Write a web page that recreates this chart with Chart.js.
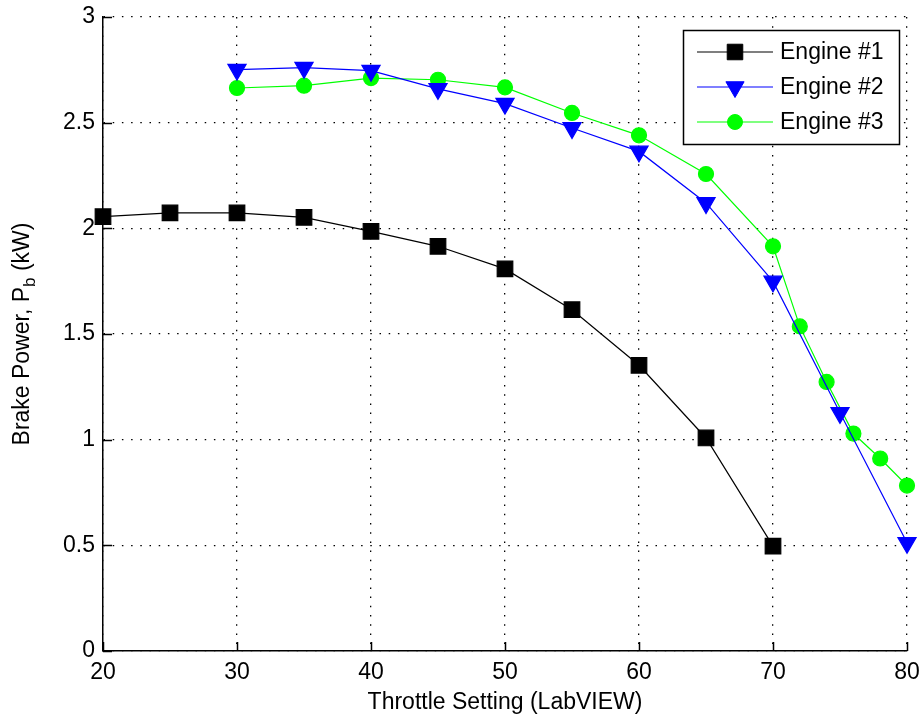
<!DOCTYPE html>
<html>
<head>
<meta charset="utf-8">
<title>Brake Power vs Throttle Setting</title>
<script src="https://cdn.jsdelivr.net/npm/chart.js@4.4.1/dist/chart.umd.min.js"></script>
<style>
  html, body { margin: 0; padding: 0; background: #fff; }
  #wrap { width: 922px; height: 721px; }
</style>
</head>
<body>
<div id="wrap"><canvas id="powerChart" width="922" height="721"></canvas></div>
<script>
// throttle settings and measured brake power (kW) for each engine
const throttle1 = [20, 25, 30, 35, 40, 45, 50, 55, 60, 65, 70];
const engine1 = [2.055, 2.073, 2.073, 2.052, 1.986, 1.915, 1.808, 1.615, 1.352, 1.008, 0.496];

const throttle2 = [30, 35, 40, 45, 50, 55, 60, 65, 70, 75, 80];
const engine2 = [2.751, 2.76, 2.746, 2.66, 2.59, 2.475, 2.364, 2.12, 1.749, 1.127, 0.512];

const throttle3 = [30, 35, 40, 45, 50, 55, 60, 65, 70, 72, 74, 76, 78, 80];
const engine3 = [2.664, 2.675, 2.711, 2.703, 2.667, 2.546, 2.44, 2.257, 1.915, 1.536, 1.273, 1.029, 0.911, 0.783];

const seriesNames = ['Engine #1', 'Engine #2', 'Engine #3'];

const FONT = '"Liberation Sans", Arial, sans-serif';
const FONT_SIZE = 23;

// pair up x and y arrays for the linear x axis
function toPoints(xs, ys) {
    return xs.map((x, i) => ({ x: x, y: ys[i] }));
}

// MATLAB style: tick marks pointing into the plot
const innerTicks = {
    id: 'innerTicks',
    afterDatasetsDraw(chart) {
        const ctx = chart.ctx;
        const area = chart.chartArea;
        const xs = chart.scales.x;
        const ys = chart.scales.y;
        ctx.save();
        ctx.strokeStyle = '#000';
        ctx.lineWidth = 1.5;
        ctx.beginPath();
        xs.ticks.forEach(t => {
            const px = Math.round(xs.getPixelForValue(t.value)) + 0.5;
            ctx.moveTo(px, area.bottom);
            ctx.lineTo(px, area.bottom - 9);
        });
        ys.ticks.forEach(t => {
            const py = Math.round(ys.getPixelForValue(t.value)) + 0.5;
            ctx.moveTo(area.left, py);
            ctx.lineTo(area.left + 9, py);
        });
        ctx.stroke();
        ctx.restore();
    }
};

// rotated y title with a subscript "b"
const yTitle = {
    id: 'yTitle',
    afterDraw(chart) {
        const ctx = chart.ctx;
        const area = chart.chartArea;
        const main1 = 'Brake Power, P';
        const sub = 'b';
        const main2 = ' (kW)';
        const subFont = '17px ' + FONT;
        const mainFont = FONT_SIZE + 'px ' + FONT;
        ctx.save();
        ctx.fillStyle = '#000';
        ctx.textBaseline = 'middle';
        ctx.textAlign = 'left';
        ctx.font = mainFont;
        const w1 = ctx.measureText(main1).width;
        const w3 = ctx.measureText(main2).width;
        ctx.font = subFont;
        const w2 = ctx.measureText(sub).width;
        const total = w1 + w2 + w3;
        ctx.translate(23, (area.top + area.bottom) / 2);
        ctx.rotate(-Math.PI / 2);
        let x = -total / 2;
        ctx.font = mainFont;
        ctx.fillText(main1, x, 0);
        x += w1;
        ctx.font = subFont;
        ctx.fillText(sub, x, 7);
        x += w2;
        ctx.font = mainFont;
        ctx.fillText(main2, x, 0);
        ctx.restore();
    }
};

// boxed legend in the upper right corner of the plot
const boxLegend = {
    id: 'boxLegend',
    afterDraw(chart) {
        const ctx = chart.ctx;
        const area = chart.chartArea;
        const w = 216, h = 114;
        const left = area.right - 8 - w;
        const top = area.top + 13;
        ctx.save();
        ctx.fillStyle = '#fff';
        ctx.fillRect(left, top, w, h);
        ctx.strokeStyle = '#000';
        ctx.lineWidth = 1.5;
        ctx.strokeRect(left + 0.5, top + 0.5, w, h);
        chart.data.datasets.forEach((ds, i) => {
            const y = top + 22 + i * 35;
            ctx.strokeStyle = ds.borderColor;
            ctx.lineWidth = ds.borderWidth;
            ctx.beginPath();
            ctx.moveTo(left + 14, y);
            ctx.lineTo(left + 90, y);
            ctx.stroke();
            ctx.fillStyle = ds.pointBackgroundColor;
            ctx.strokeStyle = ds.pointBorderColor;
            ctx.lineWidth = 1;
            Chart.helpers.drawPoint(ctx, {
                pointStyle: ds.pointStyle,
                rotation: ds.pointRotation || 0,
                radius: ds.pointRadius,
                borderWidth: 1
            }, left + 52, y);
            ctx.fillStyle = '#000';
            ctx.font = FONT_SIZE + 'px ' + FONT;
            ctx.textBaseline = 'middle';
            ctx.textAlign = 'left';
            ctx.fillText(ds.label, left + 97, y + 1);
        });
        ctx.restore();
    }
};

// dotted grid; in v4 the dash pattern of grid lines lives under border.dash
const gridStyle = {
    color: '#000',
    lineWidth: 1.3,
    drawTicks: false
};
const borderStyle = { color: '#000', width: 1.5, dash: [1.5, 7.7] };

new Chart(document.getElementById('powerChart'), {
    type: 'line',
    data: {
        datasets: [
            {
                label: seriesNames[0],
                data: toPoints(throttle1, engine1),
                borderColor: '#000000',
                borderWidth: 1.2,
                pointStyle: 'rect',
                pointRadius: 11,
                pointBackgroundColor: '#000000',
                pointBorderColor: '#000000',
                clip: false
            },
            {
                label: seriesNames[1],
                data: toPoints(throttle2, engine2),
                borderColor: '#0000ff',
                borderWidth: 1.2,
                pointStyle: 'triangle',
                pointRotation: 180,
                pointRadius: 10.5,
                pointBackgroundColor: '#0000ff',
                pointBorderColor: '#0000ff',
                clip: false
            },
            {
                label: seriesNames[2],
                data: toPoints(throttle3, engine3),
                borderColor: '#00ff00',
                borderWidth: 1.2,
                pointStyle: 'circle',
                pointRadius: 7.5,
                pointBackgroundColor: '#00ff00',
                pointBorderColor: '#00ff00',
                clip: false
            }
        ]
    },
    options: {
        responsive: false,
        animation: false,
        devicePixelRatio: 1,
        layout: { padding: { left: 0, right: 15, top: 17, bottom: 0 } },
        elements: { line: { tension: 0 } },
        plugins: {
            legend: { display: false },
            tooltip: { enabled: false }
        },
        scales: {
            x: {
                type: 'linear',
                min: 20,
                max: 80,
                ticks: {
                    stepSize: 10,
                    color: '#000',
                    padding: 8,
                    maxRotation: 0,
                    font: { size: FONT_SIZE, family: FONT }
                },
                grid: gridStyle,
                border: borderStyle,
                title: {
                    display: true,
                    text: 'Throttle Setting (LabVIEW)',
                    color: '#000',
                    font: { size: FONT_SIZE, family: FONT },
                    padding: { top: 0, bottom: 5 }
                },
                afterFit(scale) {
                    scale.height = 70;
                    scale.paddingLeft = 0;
                    scale.paddingRight = 0;
                }
            },
            y: {
                min: 0,
                max: 3,
                ticks: {
                    stepSize: 0.5,
                    color: '#000',
                    padding: 8,
                    font: { size: FONT_SIZE, family: FONT },
                    // plain labels: 0, 0.5, 1, 1.5 ...
                    callback: v => String(Math.round(v * 10) / 10)
                },
                grid: gridStyle,
                border: borderStyle,
                afterFit(scale) {
                    scale.width = 103;
                    scale.paddingTop = 0;
                    scale.paddingBottom = 0;
                }
            }
        }
    },
    plugins: [innerTicks, yTitle, boxLegend]
});
</script>
</body>
</html>
